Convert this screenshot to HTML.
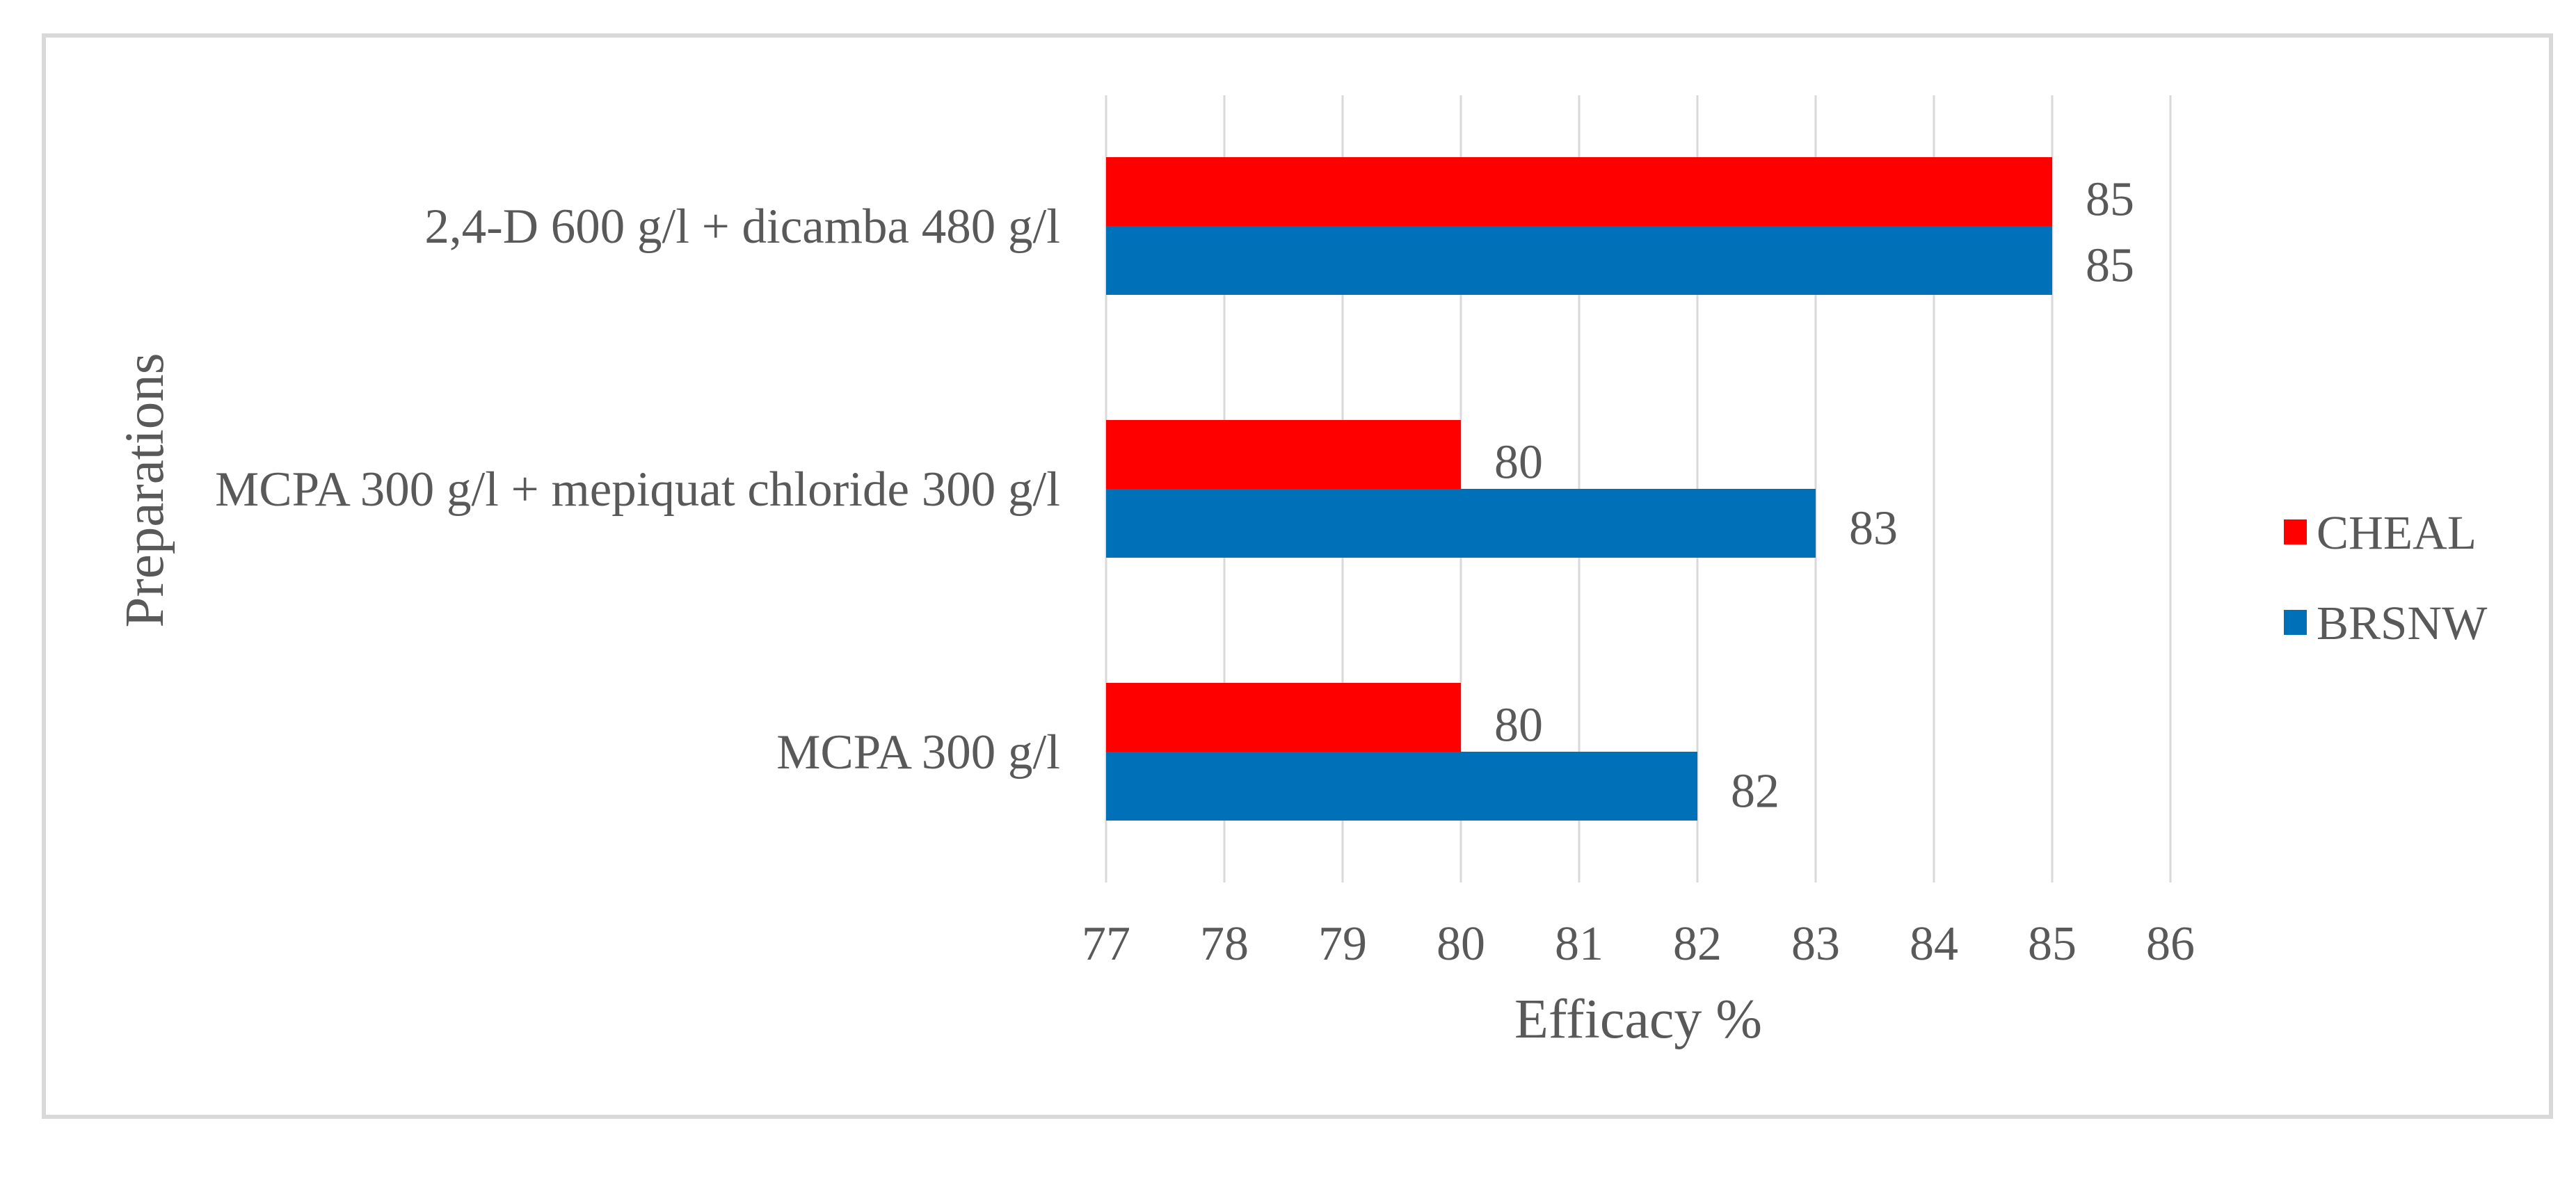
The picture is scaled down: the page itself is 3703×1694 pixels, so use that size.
<!DOCTYPE html>
<html><head><meta charset="utf-8"><style>
html,body{margin:0;padding:0;background:#fff;}
svg{display:block;}
text{font-family:"Liberation Serif",serif;fill:#595959;}
</style></head><body>
<svg id="chart" width="3703" height="1694" viewBox="0 0 3703 1694" xmlns="http://www.w3.org/2000/svg">
<rect x="63" y="51" width="3604" height="1555" fill="#fff" stroke="#d9d9d9" stroke-width="6"/>
<g id="grid"></g><g id="bars"></g><g id="labels"></g>
<text x="2355" y="1492" font-size="80" text-anchor="middle">Efficacy %</text>
<text transform="translate(234,705) rotate(-90)" font-size="79" text-anchor="middle">Preparations</text>
<g>
<rect x="3283" y="747" width="33" height="36" fill="#ff0000"/>
<text x="3330" y="789" font-size="69">CHEAL</text>
<rect x="3283" y="877" width="33" height="36" fill="#0070b8"/>
<text x="3330" y="919" font-size="69">BRSNW</text>
</g>
</svg>
<script>
const categories = ["2,4-D 600 g/l + dicamba 480 g/l", "MCPA 300 g/l + mepiquat chloride 300 g/l", "MCPA 300 g/l"];
const chealValues = [85, 80, 80];
const brsnwValues = [85, 83, 82];
const xTicks = [77, 78, 79, 80, 81, 82, 83, 84, 85, 86];

const NS = "http://www.w3.org/2000/svg";
const x0 = 1590, unit = 170, xMin = 77;
const xPos = v => x0 + (v - xMin) * unit;
const yCenter = i => 325 + i * 378;
const barH = 99;
const grid = document.getElementById('grid');
const bars = document.getElementById('bars');
const labels = document.getElementById('labels');
function mk(tag, attrs, parent){const e=document.createElementNS(NS,tag);for(const k in attrs)e.setAttribute(k,attrs[k]);parent.appendChild(e);return e;}

xTicks.forEach(t=>{
  const l = mk('line',{x1:xPos(t),x2:xPos(t),y1:137,y2:1269,stroke:'#d9d9d9','stroke-width':3},grid);
  
  
  const tx = mk('text',{x:xPos(t),y:1380,'font-size':70,'text-anchor':'middle'},labels);
  tx.textContent = t;
  
  
});

categories.forEach((c,i)=>{
  const yc = yCenter(i);
  const ct = mk('text',{x:1524,y:yc+24,'font-size':71,'text-anchor':'end'},labels);
  ct.textContent = c;
  
  
  const r1 = mk('rect',{x:xPos(xMin),y:yc-barH,width:xPos(chealValues[i])-xPos(xMin),height:barH,fill:'#ff0000'},bars);
  
  
  const r2 = mk('rect',{x:xPos(xMin),y:yc,width:xPos(brsnwValues[i])-xPos(xMin),height:barH,fill:'#0070b8'},bars);
  
  
  const v1 = mk('text',{x:xPos(chealValues[i])+48,y:yc-barH/2+34,'font-size':70},labels);
  v1.textContent = chealValues[i];
  
  
  const v2 = mk('text',{x:xPos(brsnwValues[i])+48,y:yc+barH/2+30,'font-size':70},labels);
  v2.textContent = brsnwValues[i];
  
  
});
</script>
</body></html>
